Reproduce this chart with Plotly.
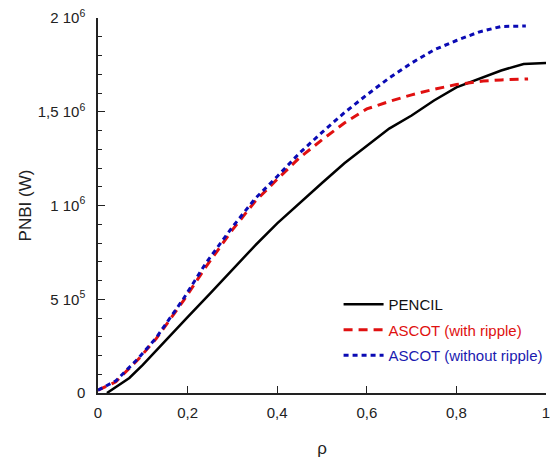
import plotly.graph_objects as go

# PENCIL
rho_pencil = [0.02, 0.07, 0.1, 0.15, 0.2, 0.25, 0.3, 0.35, 0.4, 0.45, 0.5, 0.55, 0.6, 0.65, 0.7, 0.75, 0.8, 0.85, 0.9, 0.95, 1.0]
p_pencil = [0.0, 0.08e6, 0.15e6, 0.28e6, 0.405e6, 0.53e6, 0.66e6, 0.785e6, 0.905e6, 1.015e6, 1.12e6, 1.225e6, 1.317e6, 1.41e6, 1.48e6, 1.56e6, 1.63e6, 1.675e6, 1.72e6, 1.755e6, 1.76e6]

# ASCOT with ripple
rho_ripple = [0.0, 0.04, 0.09, 0.13, 0.19, 0.24, 0.3, 0.35, 0.4, 0.45, 0.5, 0.55, 0.6, 0.65, 0.7, 0.75, 0.8, 0.86, 0.9, 0.96]
p_ripple = [0.015e6, 0.06e6, 0.18e6, 0.29e6, 0.49e6, 0.67e6, 0.87e6, 1.02e6, 1.14e6, 1.255e6, 1.35e6, 1.44e6, 1.515e6, 1.555e6, 1.59e6, 1.62e6, 1.645e6, 1.664e6, 1.67e6, 1.675e6]

# ASCOT without ripple
rho_noripple = [0.0, 0.04, 0.09, 0.13, 0.19, 0.24, 0.3, 0.35, 0.4, 0.45, 0.5, 0.55, 0.6, 0.65, 0.7, 0.75, 0.8, 0.85, 0.9, 0.955]
p_noripple = [0.015e6, 0.065e6, 0.185e6, 0.295e6, 0.5e6, 0.69e6, 0.885e6, 1.035e6, 1.155e6, 1.28e6, 1.39e6, 1.495e6, 1.59e6, 1.68e6, 1.76e6, 1.83e6, 1.88e6, 1.925e6, 1.955e6, 1.957e6]

x_ticks = [0, 0.2, 0.4, 0.6, 0.8, 1.0]
x_ticktext = ["0", "0,2", "0,4", "0,6", "0,8", "1"]
y_ticks = [0, 5e5, 1e6, 1.5e6, 2e6]
y_ticktext = ["0", "5 10<sup>5</sup>", "1 10<sup>6</sup>", "1,5 10<sup>6</sup>", "2 10<sup>6</sup>"]

fig = go.Figure()
fig.add_trace(go.Scatter(x=rho_pencil, y=p_pencil, mode="lines", name="PENCIL",
                         line=dict(color="black", width=2.5), legendgroup="a"))
fig.add_trace(go.Scatter(x=rho_ripple, y=p_ripple, mode="lines",
                         name="<span style='color:#e01010'>ASCOT (with ripple)</span>",
                         line=dict(color="#e01010", width=3, dash="9px,6px"), legendgroup="b"))
fig.add_trace(go.Scatter(x=rho_noripple, y=p_noripple, mode="lines",
                         name="<span style='color:#1a1ab0'>ASCOT (without ripple)</span>",
                         line=dict(color="#0a0ab4", width=3, dash="5px,4px"), legendgroup="c"))

font_family = "Liberation Sans, Arial, sans-serif"
fig.update_layout(
    width=550, height=467,
    margin=dict(l=98, r=0, t=18, b=74),
    plot_bgcolor="white", paper_bgcolor="white",
    font=dict(family=font_family, size=15, color="#222"),
    showlegend=True,
    legend=dict(x=0.537, y=0.28, xanchor="left", yanchor="top",
                bgcolor="rgba(0,0,0,0)", font=dict(size=15, color="#111"),
                tracegroupgap=3, itemwidth=40),
    xaxis=dict(range=[0, 1.0], tickvals=x_ticks, ticktext=x_ticktext,
               ticks="inside", ticklen=7, tickwidth=1.3, tickcolor="#222",
               ticklabeloverflow="allow", ticklabelstandoff=5,
               showline=True, linecolor="#222", linewidth=1.5, showgrid=False, zeroline=False,
               title=dict(text="ρ", font=dict(size=17), standoff=22)),
    yaxis=dict(range=[0, 2e6], tickvals=y_ticks, ticktext=y_ticktext,
               ticks="inside", ticklen=7, tickwidth=1.3, tickcolor="#222",
               ticklabelstandoff=8,
               minor=dict(dtick=1e5, ticks="inside", ticklen=4, tickcolor="#222", tickwidth=1),
               showline=True, linecolor="#222", linewidth=1.5, showgrid=False, zeroline=False,
               title=dict(text="PNBI (W)", font=dict(size=17), standoff=2)),
)

fig.write_html("out.html")
